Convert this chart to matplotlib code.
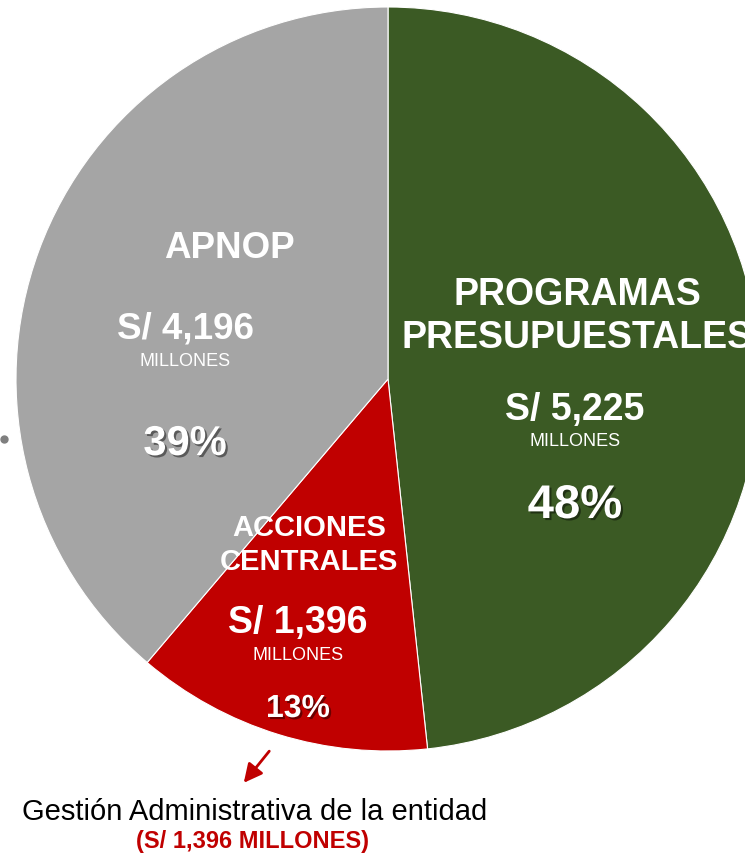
import matplotlib.pyplot as plt
import matplotlib.patheffects as pe

# Data
categories = [['PROGRAMAS', 'PRESUPUESTALES'], ['ACCIONES', 'CENTRALES'], ['APNOP']]
amounts = [5225, 1396, 4196]
percents = ['48%', '13%', '39%']
colors = ['#3B5A24', '#C00000', '#A5A5A5']

plt.rcParams['font.family'] = ['Liberation Sans', 'DejaVu Sans']

W, H = 745, 854
fig = plt.figure(figsize=(W / 100, H / 100), dpi=100)
ax = fig.add_axes([0, 0, 1, 1])

cx, cy, r = 388, H - 380, 372
wedges, _ = ax.pie(amounts, colors=colors, startangle=90, counterclock=False,
                   center=(cx, cy), radius=r, frame=True,
                   wedgeprops=dict(edgecolor='white', linewidth=0.8))
ax.set_xlim(0, W)
ax.set_ylim(0, H)
ax.set_aspect('equal')
ax.axis('off')

shadow = [pe.SimplePatchShadow(offset=(1.5, -1.5), shadow_rgbFace='black', alpha=0.45), pe.Normal()]

def label(x, y, s, size, bold=True, color='white', effects=None):
    ax.text(x, H - y, s, ha='center', va='center', fontsize=size, color=color,
            fontweight='bold' if bold else 'normal', path_effects=effects)

# Programas presupuestales
label(577, 295, categories[0][0], 27)
label(577, 338, categories[0][1], 27)
label(575, 410, f'S/ {amounts[0]:,}', 27)
label(575, 442, 'MILLONES', 13, bold=False)
label(575, 507, percents[0], 34, effects=shadow)

# APNOP
label(229, 249, categories[2][0], 26.5)
label(185, 329, f'S/ {amounts[2]:,}', 26.5)
label(185, 362, 'MILLONES', 13, bold=False)
label(185, 445, percents[2], 30, effects=shadow)

# Acciones centrales
label(309, 528, categories[1][0], 21)
label(309, 562, categories[1][1], 21)
label(298, 623, f'S/ {amounts[1]:,}', 27)
label(298, 656, 'MILLONES', 13, bold=False)
label(298, 710, percents[1], 23, effects=shadow)

# annotation below
ax.annotate('', xy=(242, H - 786), xytext=(271, H - 750),
            arrowprops=dict(arrowstyle='-|>,head_length=0.8,head_width=0.4',
                            color='#C00000', lw=2, mutation_scale=14))
label(255, 812, 'Gestión Administrativa de la entidad', 21, bold=False, color='black')
label(253, 842, f'(S/ {amounts[1]:,} MILLONES)', 17, color='#C00000')

ax.plot([4], [H - 440], 'o', color='#7F7F7F', markersize=5)

fig.savefig('out.png', dpi=100)
